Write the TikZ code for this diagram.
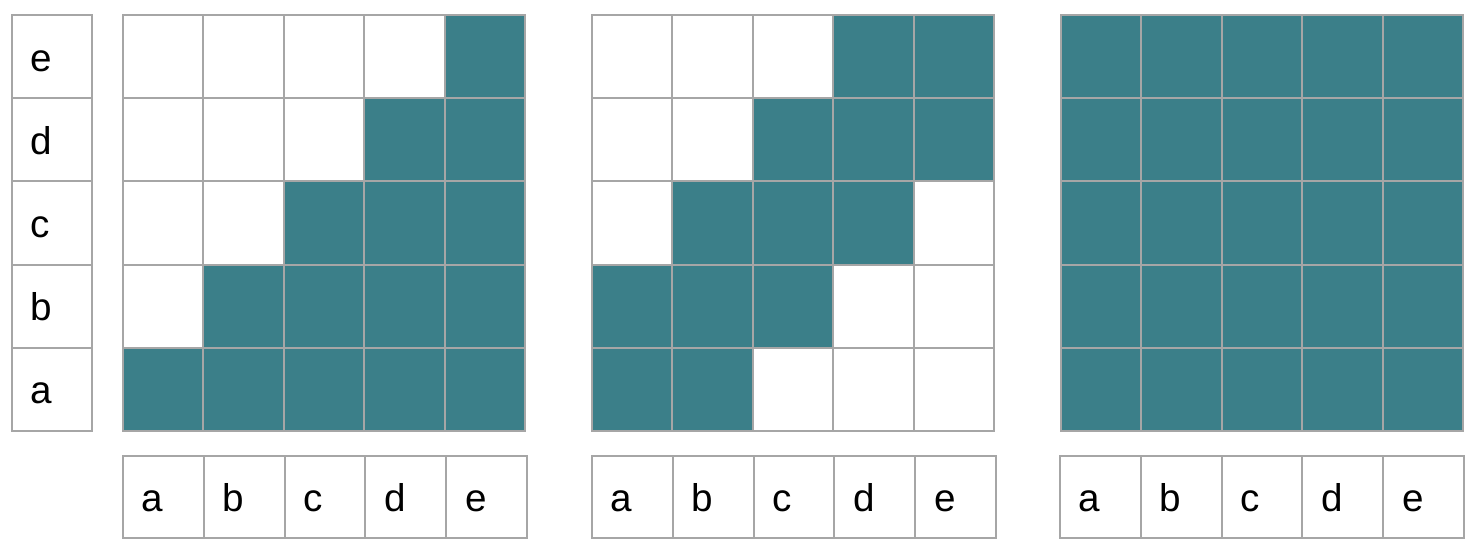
\documentclass[tikz,border=0pt]{standalone}
\usepackage{fontspec}
\setmainfont{Liberation Sans}
\usepackage{tikz}
\definecolor{cellteal}{HTML}{3B7F89}
\definecolor{cellgray}{HTML}{A6A6A6}
\tikzset{
	cellline/.style={line width=0.04cm, color=cellgray},
	cellfill/.style={fill=cellteal},
	lab/.style={font=\fontsize{22}{26}\selectfont, inner sep=0pt, anchor=base west}
}

\begin{document}
\begin{tikzpicture}[x=0.02cm, y=-0.02cm]
		%%%%% START %%%%%
		\useasboundingbox (0, 0) rectangle (1482, 558);
		
		% row labels
		\foreach \l [count=\r from 0] in {a,b,c,d,e} {
			\draw[cellline, fill=white] (12, {431-83.2*\r}) rectangle (92, {431-83.2*(\r+1)});
			\node[lab] (rowlab-\l) at (30.5, {431-83.2*(\r+0.5)+14.5}) {\l};
		}
		
		% fills, grid 1 (upper triangle)
		\foreach \r in {0,...,4} \foreach \c in {0,...,4} {
			\ifnum\c<\r \else
				\fill[cellfill] ({123+80.4*\c}, {431-83.2*\r}) rectangle ++(80.4, -83.2);
			\fi
		}
		% fills, grid 2 (band)
		\foreach \r in {0,...,4} \foreach \c in {0,...,4} {
			\pgfmathtruncatemacro\dist{abs(\c-\r)}
			\ifnum\dist<2
				\fill[cellfill] ({592+80.4*\c}, {431-83.2*\r}) rectangle ++(80.4, -83.2);
			\fi
		}
		% fills, grid 3 (full)
		\fill[cellfill] (1061, 15) rectangle (1463, 431);
		
		% grid lines and column labels
		\foreach \gx/\bx [count=\g] in {123/123, 592/592, 1061/1060} {
			\foreach \r in {0,...,4} \foreach \c in {0,...,4}
				\draw[cellline] ({\gx+80.4*\c}, {431-83.2*\r}) rectangle ++(80.4, -83.2);
			\foreach \l [count=\c from 0] in {a,b,c,d,e} {
				\draw[cellline] ({\bx+80.8*\c}, 456) rectangle ++(80.8, 82);
				\node[lab] (collab\g-\l) at ({\bx+80.8*\c+18.5}, 511.5) {\l};
			}
		}
		%%%%% END %%%%%
	\end{tikzpicture}
\end{document}
